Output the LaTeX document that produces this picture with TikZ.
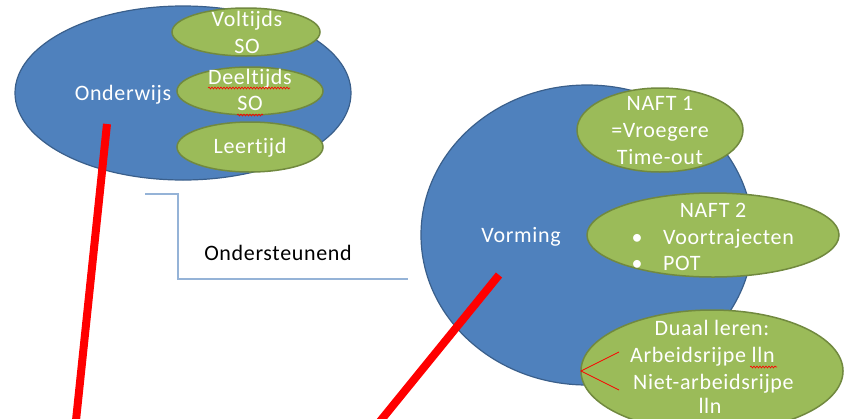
\documentclass[tikz,border=0pt]{standalone}
\usepackage{fontspec}
\setmainfont{Carlito}[Ligatures={NoCommon}, LetterSpace=3]
\usetikzlibrary{shapes.geometric,decorations.pathmorphing}
\definecolor{blueF}{HTML}{4F81BD}
\definecolor{blueD}{HTML}{3A5F8B}
\definecolor{greenF}{HTML}{9BBB59}
\definecolor{greenD}{HTML}{71893F}
\definecolor{brk}{HTML}{95B3D7}
\begin{document}
\begin{tikzpicture}[x=1pt,y=-1pt,
  bigell/.style={ellipse, draw=blueD, line width=1.2pt, fill=blueF, inner sep=0pt},
  smallell/.style={ellipse, draw=greenD, line width=1.5pt, fill=greenF, inner sep=0pt},
  wtxt/.style={text=white, font=\fontsize{22}{26}\selectfont, inner sep=0pt, anchor=base},
  btxt/.style={text=black, font=\fontsize{22}{26}\selectfont, inner sep=0pt, anchor=base},
  redline/.style={draw=red, line width=8pt},
  thinred/.style={draw=red, line width=0.8pt},
  squig/.style={draw=red, line width=0.6pt, decorate, decoration={snake, amplitude=1pt, segment length=3pt}},
  brkline/.style={draw=brk, line width=1.6pt}]
\useasboundingbox (0,0) rectangle (850,418);
\clip (0,0) rectangle (850,418);
\fill[white] (0,0) rectangle (850,418);

% Onderwijs
\node[bigell, minimum width=336pt, minimum height=174pt] (ond) at (183,93) {};
\node[smallell, minimum width=148pt, minimum height=48pt] (vol) at (246,32) {};
\node[smallell, minimum width=146pt, minimum height=48pt] (deel) at (250,91) {};
\node[smallell, minimum width=146pt, minimum height=50pt] (leer) at (250,147) {};
\node[wtxt] (tond) at (123,100) {Onderwijs};
\node[wtxt] (tvol1) at (247,26) {Voltijds};
\node[wtxt] (tvol2) at (247,53) {SO};
\node[wtxt] (tdeel1) at (250,84) {Deeltijds};
\node[wtxt] (tdeel2) at (250,110) {SO};
\node[wtxt] (tleer) at (250,153) {Leertijd};
\draw[squig] (208,88) -- (290,88);
\draw[squig] (237,115) -- (263,115);

% Ondersteunend bracket
\coordinate (b1) at (145,194);
\coordinate (b2) at (178,194);
\coordinate (b3) at (178,279);
\coordinate (b4) at (408,279);
\draw[brkline] (b1) -- (b2) -- (b3) -- (b4);
\node[btxt] (tond2) at (278,260) {Ondersteunend};

% Vorming
\node[bigell, minimum width=332pt, minimum height=300pt] (vor) at (587,235) {};
\node[smallell, minimum width=166pt, minimum height=84pt] (naft1) at (660,130) {};
\node[smallell, minimum width=252pt, minimum height=84pt] (naft2) at (713,235) {};
\node[smallell, minimum width=262pt, minimum height=122pt] (duaal) at (712,371) {};
\node[wtxt] (tvor) at (521,242) {Vorming};
\node[wtxt] (tn11) at (660,110) {NAFT 1};
\node[wtxt] (tn12) at (660,137) {=Vroegere};
\node[wtxt] (tn13) at (660,164) {Time-out};
\node[wtxt] (tn21) at (713,217) {NAFT 2};
\node[wtxt] (bul1) at (637,244) {•};
\node[wtxt] (bul2) at (637,270) {•};
\node[wtxt, anchor=base west] (tn22) at (663,244) {Voortrajecten};
\node[wtxt, anchor=base west] (tn23) at (663,270) {POT};
\node[wtxt] (td1) at (712,335) {Duaal leren:};
\node[wtxt, anchor=base west] (td2) at (630,362) {Arbeidsrijpe lln};
\node[wtxt, anchor=base west] (td3) at (633,389) {Niet-arbeidsrijpe};
\node[wtxt] (td4) at (710,413) {lln};
\draw[squig] (750,367) -- (777,367);
\coordinate (dv) at (581,371);
\coordinate (du) at (619,352);
\coordinate (dd) at (619,390);
\draw[thinred] (du) -- (dv) -- (dd);

% red strokes
\coordinate (r1a) at (107,124);
\coordinate (r1b) at (75,430);
\coordinate (r2a) at (499,275);
\coordinate (r2b) at (373,430);
\draw[redline] (r1a) -- (r1b);
\draw[redline] (r2a) -- (r2b);
\end{tikzpicture}
\end{document}
